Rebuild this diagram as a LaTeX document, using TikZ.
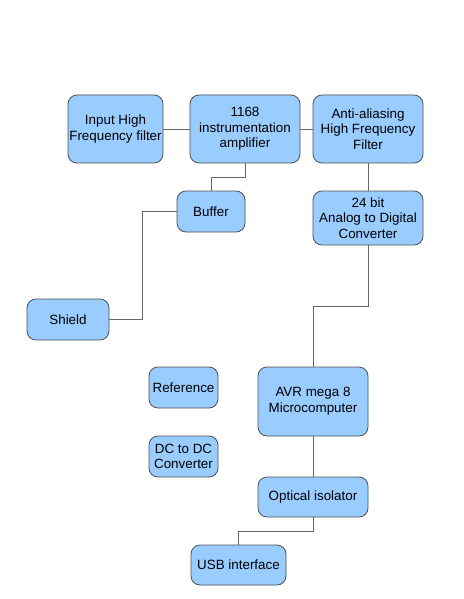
\documentclass[tikz,border=0pt]{standalone}
\usepackage{fontspec}
\setmainfont{Liberation Sans}
\definecolor{boxblue}{HTML}{99CCFF}
\definecolor{boxline}{HTML}{505050}
\definecolor{wire}{HTML}{666666}
\tikzset{blk/.style={draw=boxline, fill=boxblue, rounded corners=9pt, align=center, inner sep=1pt,
  font=\fontsize{13.4}{15.6}\selectfont, line width=0.8pt},
  wire/.style={draw=wire, line width=0.9pt}}
\begin{document}
\begin{tikzpicture}[x=1pt,y=-1pt]
\useasboundingbox (0,0) rectangle (463,599);
\node[blk, minimum width=95pt, minimum height=68pt](inhf) at (115.5,129){Input High\\Frequency filter};
\node[blk, minimum width=110pt, minimum height=68pt](amp) at (245,129){1168\\instrumentation\\amplifier};
\node[blk, minimum width=110pt, minimum height=68pt](aaf) at (368,129){Anti-aliasing\\High Frequency\\Filter};
\node[blk, minimum width=68pt, minimum height=41pt](buf) at (211,211.5){Buffer};
\node[blk, minimum width=110pt, minimum height=54pt](adc) at (368,218){24 bit\\Analog to Digital\\Converter};
\node[blk, minimum width=82pt, minimum height=41pt](shield) at (68,319.5){Shield};
\node[blk, minimum width=69pt, minimum height=41pt](ref) at (183.5,387.5){Reference};
\node[blk, minimum width=69pt, minimum height=41pt](dcdc) at (183.5,456.5){DC to DC\\Converter};
\node[blk, minimum width=110pt, minimum height=69pt](avr) at (313,401.5){AVR mega 8\\Microcomputer};
\node[blk, minimum width=110pt, minimum height=40pt](opt) at (313,497){Optical isolator};
\node[blk, minimum width=95pt, minimum height=40pt](usb) at (238.5,565){USB interface};
% connections
\draw[wire](inhf)--(amp);
\draw[wire](amp)--(aaf);
\draw[wire](aaf)--(adc);
\draw[wire](amp.south)--++(0,14)-|(buf.north);
\draw[wire](buf.west)--++(-34,0)|-(shield.east);
\draw[wire](adc.south)--++(0,61)-|(avr.north);
\draw[wire](avr)--(opt);
\draw[wire](opt.south)--++(0,14)-|(usb.north);
\end{tikzpicture}
\end{document}
